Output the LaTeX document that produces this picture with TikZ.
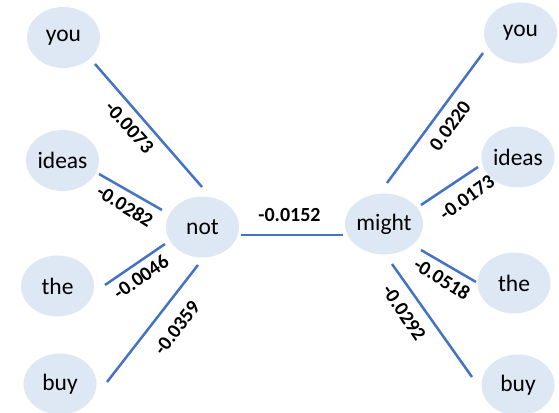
\documentclass[tikz,border=0pt]{standalone}
\usepackage{fontspec}
\setmainfont{Carlito}
\usetikzlibrary{shapes.geometric}
\definecolor{nodefill}{HTML}{DEE8F5}
\definecolor{edgeblue}{HTML}{4472C4}
\tikzset{
  word/.style={ellipse, fill=nodefill, draw=none, minimum width=73pt, minimum height=61pt, inner sep=0pt, font=\fontsize{23.5}{23.5}\selectfont},
  edge/.style={draw=edgeblue, line width=2.5pt},
  wlabel/.style={font=\fontsize{20}{20}\selectfont\bfseries, inner sep=0pt}
}
\begin{document}
\begin{tikzpicture}[x=1pt,y=1pt]
\useasboundingbox (0,0) rectangle (559,412);
% left nodes
\node[word] (youL)   at (63.5,374.5) {you};
\node[word] (ideasL) at (62.5,251.5) {ideas};
\node[word] (notN)   at (202.5,185) {not};
\node[word] (theL)   at (57.5,126) {the};
\node[word] (buyL)   at (60,28) {buy};
% right nodes
\node[word] (youR)   at (520.5,379) {you};
\node[word] (ideasR) at (518,255) {ideas};
\node[word] (mightN) at (384,188) {might};
\node[word] (theR)   at (514,129) {the};
\node[word] (buyR)   at (518,27) {buy};
% edges
\draw[edge] ([shift={(31.5,-26.5)}]youL.center) -- ([shift={(-0.5,40)}]notN.center);
\draw[edge] ([shift={(36.5,-13.5)}]ideasL.center) -- ([shift={(-40.5,17)}]notN.center);
\draw[edge] ([shift={(47.5,1)}]theL.center) -- ([shift={(-37.5,-17)}]notN.center);
\draw[edge] ([shift={(47,2)}]buyL.center) -- ([shift={(-4.5,-38)}]notN.center);
\draw[edge] ([shift={(38.5,-8)}]notN.center) -- ([shift={(-41,-11)}]mightN.center);
\draw[edge] ([shift={(3,41)}]mightN.center) -- ([shift={(-37.5,-20)}]youR.center);
\draw[edge] ([shift={(37,19)}]mightN.center) -- ([shift={(-40,-10)}]ideasR.center);
\draw[edge] ([shift={(37,-26)}]mightN.center) -- ([shift={(-38,1)}]theR.center);
\draw[edge] ([shift={(8,-40)}]mightN.center) -- ([shift={(-46,8)}]buyR.center);
% labels
\node[wlabel, rotate=-48] (l1) at (129.5,284.5) {-0.0073};
\node[wlabel, rotate=-32] (l2) at (125,206) {-0.0282};
\node[wlabel, rotate=35] (l3) at (141,135) {-0.0046};
\node[wlabel, rotate=53] (l4) at (177,84) {-0.0359};
\node[wlabel] (l5) at (289.5,196.5) {-0.0152};
\node[wlabel, rotate=54] (l6) at (450,286) {0.0220};
\node[wlabel, rotate=36] (l7) at (467,214) {-0.0173};
\node[wlabel, rotate=-32] (l8) at (442,133) {-0.0518};
\node[wlabel, rotate=-56] (l9) at (404,99) {-0.0292};
\end{tikzpicture}
\end{document}
